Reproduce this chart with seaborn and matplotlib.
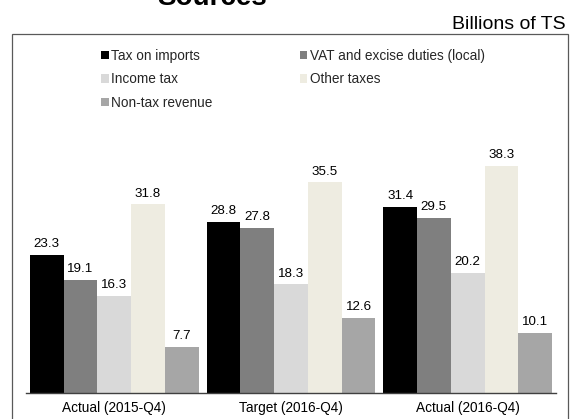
import matplotlib
matplotlib.use("Agg")
import matplotlib.pyplot as plt
import matplotlib.patches as mpatches
import seaborn as sns
import pandas as pd

categories = ["Actual (2015-Q4)", "Target (2016-Q4)", "Actual (2016-Q4)"]
series = ["Tax on imports", "VAT and excise duties (local)", "Income tax",
          "Other taxes", "Non-tax revenue"]
tax_on_imports = [23.3, 28.8, 31.4]
vat_excise = [19.1, 27.8, 29.5]
income_tax = [16.3, 18.3, 20.2]
other_taxes = [31.8, 35.5, 38.3]
non_tax = [7.7, 12.6, 10.1]
colors = ["#000000", "#7f7f7f", "#d9d9d9", "#eeece1", "#a6a6a6"]

values = [tax_on_imports, vat_excise, income_tax, other_taxes, non_tax]
rows = []
for s, vals in zip(series, values):
    for c, v in zip(categories, vals):
        rows.append({"Period": c, "Series": s, "Value": v})
df = pd.DataFrame(rows)

sns.set_theme(style="white")
plt.rcParams["font.family"] = ["Liberation Sans", "DejaVu Sans"]

W, H = 571, 419
fig = plt.figure(figsize=(W / 100, H / 100), dpi=100)

def fx(px):
    return px / W

def fy(py):
    return 1 - py / H

ax_left, ax_right, ax_bottom, ax_top = 26, 556, 393, 34
ax = fig.add_axes([fx(ax_left), fy(ax_bottom), fx(ax_right - ax_left),
                   (ax_bottom - ax_top) / H])

sns.barplot(data=df, x="Period", y="Value", hue="Series", order=categories,
            hue_order=series, palette=colors, saturation=1, width=0.956,
            errorbar=None, legend=False, ax=ax, linewidth=0)

ax.set_xlim(-0.5, 2.5)
ax.set_ylim(0, (ax_bottom - ax_top) / 5.93)

for cont in ax.containers:
    ax.bar_label(cont, fmt="%.1f", padding=3.5, fontsize=9.6, color="#000000")

for sp in ["left", "top", "right"]:
    ax.spines[sp].set_visible(False)
ax.spines["bottom"].set_color("#404040")
ax.spines["bottom"].set_linewidth(1.0)
ax.set_yticks([])
ax.set_xlabel("")
ax.set_ylabel("")
ax.set_xticks([0, 1, 2])
ax.set_xticklabels(categories, fontsize=9.8, color="#000000")
ax.tick_params(axis="x", which="major", length=0, pad=6)
ax.set_xticks([-0.5, 0.5, 1.5, 2.5], minor=True)
ax.tick_params(axis="x", which="minor", length=3.5, width=1.0, color="#404040",
               direction="out")

# legend
handles = [mpatches.Patch(facecolor=c, edgecolor="none") for c in colors]
order = [0, 2, 4, 1, 3]
fig.legend([handles[i] for i in order], [series[i] for i in order],
           loc="upper left", bbox_to_anchor=(fx(101), fy(49)),
           bbox_transform=fig.transFigure, ncol=2, frameon=False,
           fontsize=9.8, handlelength=0.56, handleheight=0.56,
           handletextpad=0.2, columnspacing=6.4, labelspacing=0.68,
           borderpad=0, borderaxespad=0)

# outer chart frame
frame = mpatches.Rectangle((fx(12), -0.02), fx(556), (H - 34) / H + 0.02,
                           transform=fig.transFigure, fill=False,
                           edgecolor="#595959", linewidth=0.9)
fig.patches.append(frame)

fig.text(fx(212), fy(5), "Sources", ha="center", va="baseline",
         fontsize=20, fontweight="bold", color="#000000")
fig.text(fx(566), fy(29), "Billions of TS", ha="right", va="baseline",
         fontsize=14, color="#000000")

fig.savefig("out.png", dpi=100)
